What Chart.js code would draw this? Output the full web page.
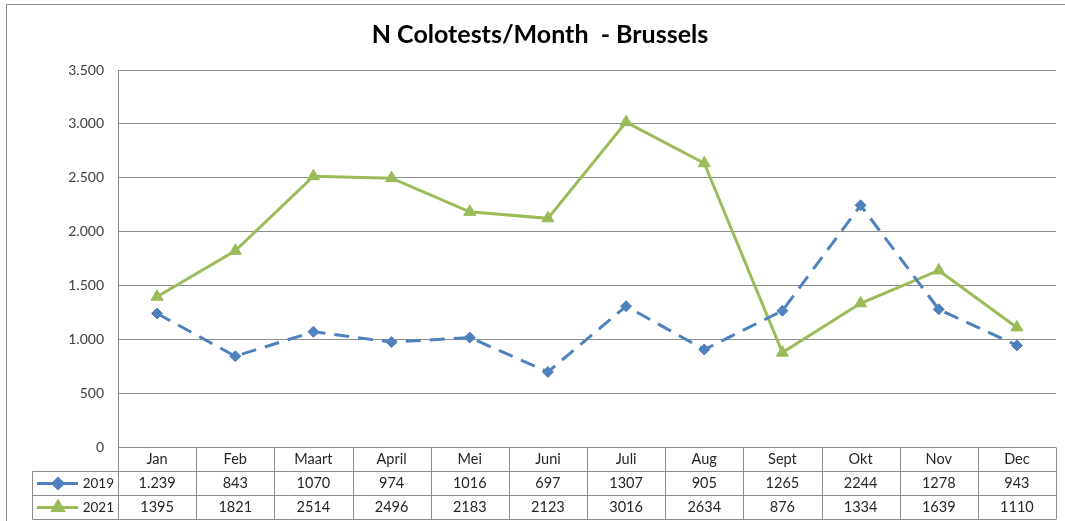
<!DOCTYPE html>
<html>
<head>
<meta charset="utf-8">
<script src="https://cdn.jsdelivr.net/npm/chart.js@4/dist/chart.umd.min.js"></script>
<style>
  body { margin: 0; background: #fff; }
  #wrap { width: 1065px; height: 521px; }
</style>
</head>
<body>
<div id="wrap"><canvas id="colotestChart" width="1065" height="521"></canvas></div>
<script>
// Maanden en aantallen colotests per jaar
const maanden = ['Jan', 'Feb', 'Maart', 'April', 'Mei', 'Juni', 'Juli', 'Aug', 'Sept', 'Okt', 'Nov', 'Dec'];
const data2019 = [1239, 843, 1070, 974, 1016, 697, 1307, 905, 1265, 2244, 1278, 943];
const data2021 = [1395, 1821, 2514, 2496, 2183, 2123, 3016, 2634, 876, 1334, 1639, 1110];
const yTicks = [0, 500, 1000, 1500, 2000, 2500, 3000, 3500];

const blauw = '#4F81BD';
const groen = '#9BBB59';
const lijnKleur = '#8C8C8C';
const tekstKleur = '#262626';
const fontFam = 'Lato, "Liberation Sans", sans-serif';

// punt als duizendtal-scheiding (3.500)
function metPunt(v) {
    return String(v).replace(/\B(?=(\d{3})+(?!\d))/g, '.');
}

// in de bron staat alleen de eerste waarde van 2019 met punt
const tabel2019 = data2019.map((v, i) => i === 0 ? metPunt(v) : String(v));
const tabel2021 = data2021.map(v => String(v));

// Tabel onder de grafiek + kader tekenen
const tabelPlugin = {
    id: 'tabelPlugin',
    beforeDraw(chart) {
        const c = chart.ctx;
        c.save();
        c.strokeStyle = lijnKleur;
        c.lineWidth = 1;
        c.beginPath();
        c.moveTo(6.5, 521);
        c.lineTo(6.5, 4.5);
        c.lineTo(1065, 4.5);
        c.stroke();
        c.restore();
    },
    afterDraw(chart) {
        const c = chart.ctx;
        const area = chart.chartArea;
        const x = chart.scales.x;
        const colW = area.width / maanden.length;
        const rijH = 24;
        const y0 = Math.round(area.bottom) + 0.5;
        const legLinks = 32.5;

        c.save();
        c.strokeStyle = lijnKleur;
        c.lineWidth = 1;
        c.beginPath();
        // horizontale lijnen
        c.moveTo(area.left, y0); c.lineTo(area.right, y0);
        for (let r = 1; r <= 3; r++) {
            c.moveTo(legLinks, y0 + r * rijH);
            c.lineTo(area.right, y0 + r * rijH);
        }
        // verticale lijnen
        for (let i = 0; i <= maanden.length; i++) {
            const xx = Math.round(area.left + i * colW) + 0.5;
            c.moveTo(xx, y0);
            c.lineTo(xx, y0 + 3 * rijH);
        }
        c.moveTo(legLinks, y0 + rijH);
        c.lineTo(legLinks, y0 + 3 * rijH);
        c.stroke();

        // teksten
        c.fillStyle = tekstKleur;
        c.font = '14.5px ' + fontFam;
        c.textAlign = 'center';
        c.textBaseline = 'middle';
        maanden.forEach((m, i) => {
            const cx = x.getPixelForValue(i);
            c.fillText(m, cx, y0 + rijH * 0.5);
            c.fillText(tabel2019[i], cx, y0 + rijH * 1.5);
            c.fillText(tabel2021[i], cx, y0 + rijH * 2.5);
        });

        // legende in de tabel
        const series = [
            { naam: '2019', kleur: blauw, vorm: 'rectRot', r: 5, rij: 1.5 },
            { naam: '2021', kleur: groen, vorm: 'triangle', r: 6, rij: 2.5 }
        ];
        c.font = '13.5px ' + fontFam;
        series.forEach(s => {
            const ly = y0 + rijH * s.rij;
            c.strokeStyle = s.kleur;
            c.lineWidth = 3;
            c.beginPath();
            c.moveTo(37, ly);
            c.lineTo(78, ly);
            c.stroke();
            c.fillStyle = s.kleur;
            Chart.helpers.drawPoint(c, { pointStyle: s.vorm, radius: s.r, borderWidth: 1 }, 58, ly);
            c.fill();
            c.fillStyle = tekstKleur;
            c.textAlign = 'right';
            c.fillText(s.naam, 114, ly);
        });
        c.restore();
    }
};

const ctx = document.getElementById('colotestChart').getContext('2d');

const colotestChart = new Chart(ctx, {
    type: 'line',
    data: {
        labels: maanden,
        datasets: [
            {
                label: '2019',
                data: data2019,
                borderColor: blauw,
                backgroundColor: blauw,
                borderWidth: 3,
                borderDash: [15, 9],
                pointStyle: 'rectRot',
                pointRadius: 5.5,
                pointBorderWidth: 1,
                tension: 0
            },
            {
                label: '2021',
                data: data2021,
                borderColor: groen,
                backgroundColor: groen,
                borderWidth: 3,
                pointStyle: 'triangle',
                pointRadius: 7,
                pointBorderWidth: 1,
                tension: 0
            }
        ]
    },
    options: {
        responsive: false,
        animation: false,
        layout: {
            padding: { top: 0, right: 9, bottom: 74, left: 24 }
        },
        plugins: {
            legend: { display: false },
            tooltip: { enabled: false },
            title: {
                display: true,
                text: 'N Colotests/Month  - Brussels',
                color: '#000',
                font: { family: fontFam, size: 25, weight: 'bold', lineHeight: 1.2 },
                padding: { top: 20, bottom: 20 }
            }
        },
        scales: {
            x: {
                display: false,
                offset: true
            },
            y: {
                min: 0,
                max: 3500,
                afterBuildTicks(scale) {
                    scale.ticks = yTicks.map(v => ({ value: v }));
                },
                afterFit(scale) {
                    scale.width = 94;
                },
                border: { display: true, color: lijnKleur, width: 1 },
                grid: { color: lijnKleur, lineWidth: 1, drawTicks: false },
                ticks: {
                    padding: 14,
                    color: '#404040',
                    font: { family: fontFam, size: 14 },
                    callback: v => metPunt(v)
                }
            }
        }
    },
    plugins: [tabelPlugin]
});
</script>
</body>
</html>
